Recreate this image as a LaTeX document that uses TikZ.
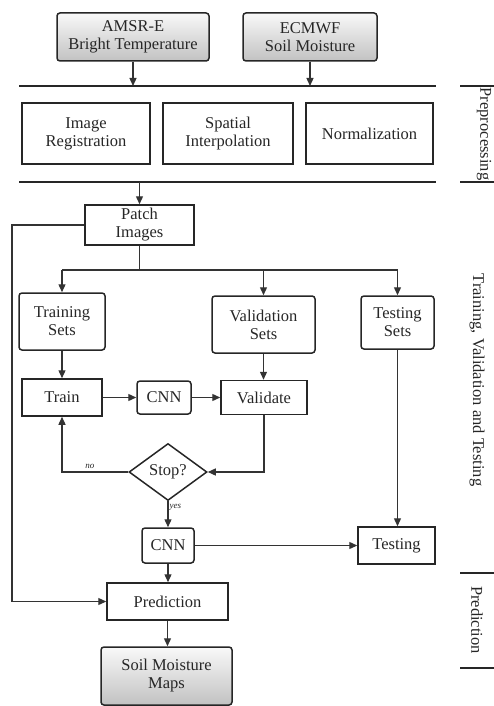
\documentclass[tikz,border=0pt]{standalone}
\usepackage{fontspec}
\setmainfont{Liberation Serif}
\usetikzlibrary{shapes.geometric,arrows.meta}
\begin{document}
\begin{tikzpicture}[x=1pt,y=-1pt,
  every node/.style={font=\fontsize{16.5}{18}\selectfont, text=black!85, align=center},
  box/.style={draw=black!85, line width=1.5pt, inner sep=0pt},
  rbox/.style={box, rounded corners=3pt},
  gbox/.style={rbox, top color=gray!5, bottom color=gray!48},
  dbox/.style={box, shape=diamond, minimum width=78pt, minimum height=57pt},
  conn/.style={draw=black!80, line width=1.3pt},
  arr/.style={conn, -{Triangle[length=8pt,width=7pt]}},
  lbl/.style={font=\fontsize{9}{10}\selectfont\itshape, inner sep=1pt},
  side/.style={rotate=-90, inner sep=0pt, font=\fontsize{16.5}{18}\selectfont},
  sep/.style={draw=black!85, line width=1.4pt}
]
\useasboundingbox (0,0) rectangle (494,706);

% inputs
\node[gbox, minimum width=152pt, minimum height=48pt] (amsr) at (133,37) {AMSR-E\\Bright Temperature};
\node[gbox, minimum width=134pt, minimum height=48pt] (ecmwf) at (310,37) {ECMWF\\Soil Moisture};

% preprocessing
\coordinate (l1a) at (19,86); \coordinate (l1b) at (436,86);
\coordinate (l2a) at (19,182); \coordinate (l2b) at (436,182);
\draw[sep] (l1a) -- (l1b);
\draw[sep] (l2a) -- (l2b);
\draw[arr] (amsr.south) -- (amsr.south |- l1a);
\draw[arr] (ecmwf.south) -- (ecmwf.south |- l1a);

\node[box, minimum width=128pt, minimum height=61pt] (imreg) at (86,133.5) {Image\\Registration};
\node[box, minimum width=130pt, minimum height=61pt] (spint) at (228,133.5) {Spatial\\Interpolation};
\node[box, minimum width=127pt, minimum height=61pt] (norm) at (369.5,133.5) {Normalization};

% patches
\node[box, minimum width=109pt, minimum height=40pt] (patch) at (139.5,225) {Patch\\Images};
\draw[arr] (patch.north |- l2a) -- (patch.north);

\node[rbox, minimum width=86pt, minimum height=57pt] (trs) at (62,321.5) {Training\\Sets};
\node[rbox, minimum width=103pt, minimum height=57pt] (vs) at (263.5,324.5) {Validation\\Sets};
\node[rbox, minimum width=73pt, minimum height=53pt] (tes) at (397.5,322.5) {Testing\\Sets};

\coordinate (fork) at (139.5,270);
\draw[conn] (patch.south) -- (fork);
\draw[conn] (trs.north |- fork) -- (tes.north |- fork);
\draw[arr] (trs.north |- fork) -- (trs.north);
\draw[arr] (vs.north |- fork) -- (vs.north);
\draw[arr] (tes.north |- fork) -- (tes.north);

% training loop
\node[box, minimum width=80pt, minimum height=37pt] (train) at (62,397.5) {Train};
\node[rbox, minimum width=54pt, minimum height=33pt] (cnna) at (164,397.5) {CNN};
\node[box, minimum width=86pt, minimum height=34pt] (valid) at (264,397.5) {Validate};
\node[dbox] (stop) at (168,472) {Stop?};

\draw[arr] (trs.south) -- (train.north);
\draw[arr] (vs.south) -- (vs.south |- valid.north);
\draw[arr] (train) -- (cnna);
\draw[arr] (cnna) -- (valid);
\draw[arr] (valid.south) |- (stop.east);
\draw[arr] (stop.west) -| node[lbl, pos=0.29, above, yshift=2pt] {no} (train.south);

% testing / prediction
\node[rbox, minimum width=52pt, minimum height=35pt] (cnnb) at (168,545.5) {CNN};
\node[box, minimum width=77pt, minimum height=37pt] (testing) at (396.5,545.5) {Testing};
\node[box, minimum width=121pt, minimum height=37pt] (pred) at (167.5,601.5) {Prediction};
\node[gbox, minimum width=131pt, minimum height=58pt] (maps) at (166.5,676) {Soil Moisture\\Maps};

\draw[arr] (stop.south) -- node[lbl, right, pos=0.25] {yes} (stop.south |- cnnb.north);
\draw[arr] (cnnb) -- (testing);
\draw[arr] (tes.south) -- (tes.south |- testing.north);
\draw[arr] (cnnb.south) -- (cnnb.south |- pred.north);
\draw[arr] (pred.south) -- (pred.south |- maps.north);

\coordinate (lx) at (12,0);
\draw[arr] (patch.west) -- (patch.west -| lx) |- (pred.west);

% side labels
\coordinate (t1a) at (460,86);  \coordinate (t1b) at (494,86);
\coordinate (t2a) at (460,182); \coordinate (t2b) at (494,182);
\coordinate (t3a) at (460,573); \coordinate (t3b) at (494,573);
\coordinate (t4a) at (460,668); \coordinate (t4b) at (494,668);
\draw[sep] (t1a) -- (t1b);
\draw[sep] (t2a) -- (t2b);
\draw[sep] (t3a) -- (t3b);
\draw[sep] (t4a) -- (t4b);
\node[side] (sp) at (484,134) {Preprocessing};
\node[side] (st) at (477,380) {Training, Validation and Testing};
\node[side] (spr) at (477,620) {Prediction};
\end{tikzpicture}
\end{document}
